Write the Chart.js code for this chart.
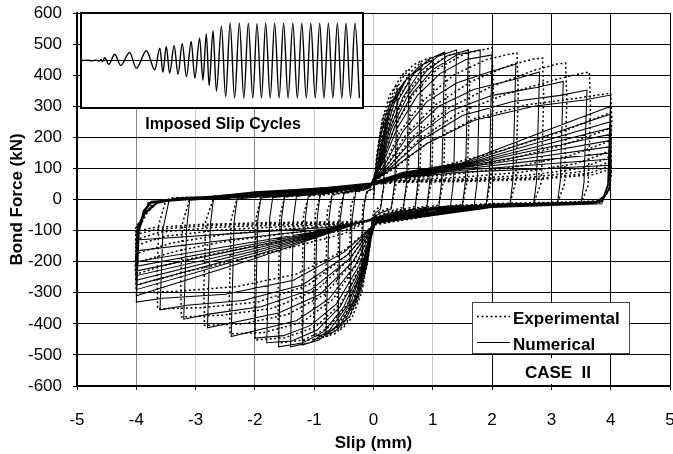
<!DOCTYPE html>
<html>
<head>
<meta charset="utf-8">
<script src="https://cdn.jsdelivr.net/npm/chart.js@4.4.1/dist/chart.umd.min.js"></script>
<style>
  html, body { margin: 0; padding: 0; background: #fff; }
  #wrap { position: relative; width: 673px; height: 454px; }
  #main { position: absolute; left: 0; top: 0; }
  #inset { position: absolute; left: 80px; top: 12px; width: 284px; height: 97px; box-sizing: border-box; border: 2px solid #000; background: #fff; }
  #insetChart { display: block; }
</style>
</head>
<body>
<div id="wrap">
  <canvas id="main" width="673" height="454"></canvas>
  <div id="inset"><canvas id="insetChart" width="280" height="93"></canvas></div>
</div>
<script>
// slip history for the small panel: time (0-100) and slip (mm) at each turning point
const insetTime = [0,2.1,3.6,5.0,6.1,6.8,7.3,8.1,9.6,11.7,13.8,17.0,19.4,23.0,26.0,27.8,28.9,30.1,31.3,32.9,
  34.3,35.8,37.3,39.0,40.3,42.0,43.2,44.4,45.4,46.8,48.0,49.8,51.3,52.9,54.5,56.2,57.8,59.4,61.0,62.5,
  64.1,65.6,67.2,68.8,70.4,72.0,73.6,75.3,76.9,78.5,80.1,81.7,83.3,84.9,86.4,88.0,89.6,91.2,92.8,94.3,
  95.9,97.5,99.1];
const insetSlip = [0,0.03,-0.02,0.04,-0.05,0.1,-0.12,0.3,-0.4,0.68,-0.54,0.86,-0.83,1.05,-1.0,1.33,-1.26,1.51,-1.37,1.62,
  -1.48,1.8,-1.73,2.05,-1.9,2.4,-2.1,2.85,-2.7,3.2,-3.3,3.68,-3.9,4.0,-4.05,4.0,-4.05,4.0,-4.05,3.95,
  -4.05,4.0,-4.05,4.0,-4.05,4.0,-4.05,4.0,-4.05,4.0,-4.05,4.0,-4.05,4.0,-4.05,4.0,-4.05,4.0,-4.05,4.0,
  -4.05,4.0,-4.05];

// numerical model: cycles of growing amplitude, [slip mm, force kN]
const numericalGrowing = [
  [[0,0],[0.05,120],[0.12,210],[0.2,250],[0.17,40],[0.12,-30],[0.02,-45],[-0.05,-140],[-0.12,-220],[-0.2,-260],[-0.17,-40],[-0.12,25],[0,35]],
  [[0.07,150],[0.17,250],[0.28,310],[0.4,340],[0.36,60],[0.3,-30],[0.1,-45],[-0.02,-60],[-0.09,-170],[-0.19,-265],[-0.3,-320],[-0.4,-350],[-0.36,-60],[-0.3,25],[-0.1,35]],
  [[0.03,60],[0.12,170],[0.25,280],[0.4,350],[0.6,395],[0.56,60],[0.5,-35],[0.25,-45],[0.02,-60],[-0.1,-180],[-0.22,-290],[-0.4,-375],[-0.6,-415],[-0.56,-60],[-0.5,20],[-0.25,30],[-0.05,40]],
  [[0.05,80],[0.15,190],[0.3,300],[0.5,375],[0.65,405],[0.8,420],[0.75,60],[0.7,-30],[0.35,-45],[0.02,-60],[-0.12,-190],[-0.28,-310],[-0.48,-390],[-0.65,-425],[-0.8,-435],[-0.75,-60],[-0.7,15],[-0.35,30],[-0.05,40]],
  [[0.06,90],[0.18,200],[0.35,310],[0.55,385],[0.78,430],[1.0,449],[0.95,60],[0.9,-25],[0.5,-40],[0.05,-60],[-0.14,-200],[-0.32,-320],[-0.55,-400],[-0.78,-432],[-1.0,-441],[-0.95,-60],[-0.9,15],[-0.5,30],[-0.05,42]],
  [[0.08,100],[0.22,210],[0.42,320],[0.66,400],[0.92,450],[1.2,474],[1.15,60],[1.1,-25],[0.6,-40],[0.05,-62],[-0.16,-210],[-0.38,-330],[-0.64,-410],[-0.92,-452],[-1.2,-468],[-1.15,-60],[-1.1,12],[-0.6,28],[-0.05,44]],
  [[0.1,110],[0.26,220],[0.5,330],[0.78,410],[1.08,460],[1.4,481],[1.35,60],[1.3,-20],[0.7,-38],[0.05,-64],[-0.18,-220],[-0.44,-340],[-0.74,-420],[-1.06,-460],[-1.4,-474],[-1.35,-60],[-1.3,10],[-0.7,26],[-0.05,45]],
  [[0.12,115],[0.3,225],[0.58,335],[0.9,415],[1.24,462],[1.6,481],[1.55,60],[1.5,-20],[0.8,-36],[0.05,-65],[-0.2,-220],[-0.5,-345],[-0.84,-425],[-1.2,-462],[-1.6,-474],[-1.55,-60],[-1.5,8],[-0.8,25],[-0.05,46]],
  [[0.14,118],[0.35,230],[0.65,340],[1.0,418],[1.4,465],[1.8,481],[1.75,60],[1.7,-18],[0.9,-35],[0.05,-66],[-0.22,-220],[-0.56,-345],[-0.95,-420],[-1.38,-455],[-1.8,-461],[-1.75,-60],[-1.7,6],[-0.9,24],[-0.05,47]],
  [[0.16,118],[0.4,230],[0.74,335],[1.12,405],[1.56,450],[2.0,465],[1.95,60],[1.9,-18],[1.0,-34],[0.05,-67],[-0.25,-215],[-0.62,-335],[-1.06,-405],[-1.52,-438],[-2.0,-446],[-1.95,-60],[-1.9,5],[-1.0,23],[-0.05,48]],
  [[0.2,115],[0.5,220],[0.9,315],[1.4,375],[1.95,410],[2.4,435],[2.35,60],[2.3,-16],[1.2,-32],[0.05,-68],[-0.3,-210],[-0.75,-320],[-1.3,-390],[-1.95,-420],[-2.4,-441],[-2.35,-70],[-2.3,2],[-1.2,22],[-0.05,49]],
  [[0.24,112],[0.6,210],[1.1,300],[1.7,355],[2.35,385],[2.8,410],[2.75,60],[2.7,-15],[1.4,-30],[0.05,-70],[-0.35,-200],[-0.9,-305],[-1.6,-365],[-2.35,-395],[-2.8,-413],[-2.75,-80],[-2.7,0],[-1.4,20],[-0.05,50]],
  [[0.28,110],[0.7,200],[1.3,285],[2.0,335],[2.75,360],[3.2,380],[3.15,60],[3.1,-14],[1.6,-28],[0.05,-72],[-0.4,-190],[-1.05,-290],[-1.9,-345],[-2.75,-368],[-3.2,-385],[-3.15,-90],[-3.1,-2],[-1.6,18],[-0.05,51]],
  [[0.32,108],[0.8,190],[1.5,270],[2.35,315],[3.15,335],[3.6,352],[3.55,55],[3.5,-14],[1.8,-27],[0.05,-74],[-0.45,-180],[-1.2,-275],[-2.2,-325],[-3.15,-340],[-3.6,-355],[-3.55,-95],[-3.45,-5],[-1.8,16],[-0.05,52]],
  [[0.36,105],[0.9,180],[1.7,255],[2.7,300],[3.55,320],[4.0,336],[3.95,50],[3.85,-14],[2.0,-26],[0.05,-76],[-0.5,-170],[-1.35,-260],[-2.5,-305],[-3.55,-318],[-4.0,-330],[-3.95,-100],[-3.8,-10],[-2.0,15],[-0.05,53]]
];

// numerical model: repeated cycles at 4 mm
const numericalAt4mm = [
  [[0.5,88],[1.5,118],[2.75,210],[4.0,300],[3.96,45],[3.88,5],[3.75,-12],[2.0,-24],[0.05,-56],[-0.8,-112],[-2.0,-190],[-4.0,-310],[-3.96,-95],[-3.88,-35],[-3.75,-6],[-2.0,16],[-0.05,52]],
  [[0.5,86],[1.5,115],[2.75,195],[4.0,275],[3.96,46],[3.88,6],[3.75,-11],[2.0,-23],[0.05,-57],[-0.8,-110],[-2.0,-180],[-4.0,-290],[-3.96,-96],[-3.88,-36],[-3.75,-7],[-2.0,17],[-0.05,51]],
  [[0.5,84],[1.5,112],[2.75,182],[4.0,250],[3.96,47],[3.88,6],[3.75,-10],[2.0,-22],[0.05,-58],[-0.8,-108],[-2.0,-172],[-4.0,-275],[-3.96,-97],[-3.88,-37],[-3.75,-8],[-2.0,18],[-0.05,50]],
  [[0.5,82],[1.5,110],[2.75,170],[4.0,230],[3.96,48],[3.88,7],[3.75,-10],[2.0,-21],[0.05,-59],[-0.8,-106],[-2.0,-165],[-4.0,-260],[-3.96,-98],[-3.88,-38],[-3.75,-8],[-2.0,19],[-0.05,50]],
  [[0.5,80],[1.5,108],[2.75,160],[4.0,210],[3.96,49],[3.88,8],[3.75,-9],[2.0,-20],[0.05,-60],[-0.8,-104],[-2.0,-158],[-4.0,-245],[-3.96,-99],[-3.88,-39],[-3.75,-9],[-2.0,20],[-0.05,49]],
  [[0.5,78],[1.5,105],[2.75,148],[4.0,190],[3.96,50],[3.88,8],[3.75,-9],[2.0,-19],[0.05,-61],[-0.8,-102],[-2.0,-150],[-4.0,-230],[-3.96,-100],[-3.88,-40],[-3.75,-10],[-2.0,21],[-0.05,48]],
  [[0.5,76],[1.5,102],[2.75,137],[4.0,170],[3.96,51],[3.88,9],[3.75,-8],[2.0,-18],[0.05,-62],[-0.8,-100],[-2.0,-143],[-4.0,-215],[-3.96,-101],[-3.88,-41],[-3.75,-10],[-2.0,22],[-0.05,48]],
  [[0.5,74],[1.5,98],[2.75,125],[4.0,150],[3.96,52],[3.88,10],[3.75,-8],[2.0,-17],[0.05,-63],[-0.8,-98],[-2.0,-136],[-4.0,-200],[-3.96,-102],[-3.88,-42],[-3.75,-11],[-2.0,23],[-0.05,47]],
  [[0.5,72],[1.5,94],[2.75,112],[4.0,130],[3.96,53],[3.88,10],[3.75,-7],[2.0,-16],[0.05,-64],[-0.8,-95],[-2.0,-120],[-4.0,-165],[-3.96,-103],[-3.88,-43],[-3.75,-11],[-2.0,24],[-0.05,47]],
  [[0.5,70],[1.5,88],[2.75,98],[4.0,110],[3.96,54],[3.88,11],[3.75,-7],[2.0,-15],[0.05,-65],[-0.8,-90],[-2.0,-105],[-4.0,-130],[-3.96,-104],[-3.88,-44],[-3.75,-12],[-2.0,25],[-0.05,46]]
];

// test results: cycles of growing amplitude
const experimentalGrowing = [
  [[0,0],[0.04,100],[0.1,200],[0.16,260],[0.2,280],[0.21,200],[0.18,50],[0.12,-20],[0,-40],[-0.05,-120],[-0.12,-210],[-0.2,-250],[-0.21,-180],[-0.18,-20],[-0.1,25],[0,40]],
  [[0.06,150],[0.15,260],[0.27,335],[0.37,365],[0.4,370],[0.41,260],[0.38,50],[0.3,-25],[0.1,-40],[-0.02,-60],[-0.08,-170],[-0.18,-275],[-0.3,-335],[-0.4,-360],[-0.41,-250],[-0.38,-20],[-0.3,22],[-0.1,35]],
  [[0.02,70],[0.1,180],[0.22,290],[0.38,370],[0.52,410],[0.6,420],[0.62,300],[0.58,60],[0.5,-25],[0.25,-40],[0,-60],[-0.09,-190],[-0.2,-300],[-0.36,-380],[-0.52,-415],[-0.6,-420],[-0.61,-300],[-0.58,-40],[-0.5,18],[-0.25,30],[-0.05,38]],
  [[0.05,95],[0.15,210],[0.3,320],[0.48,390],[0.66,432],[0.8,445],[0.82,320],[0.78,60],[0.7,-22],[0.35,-38],[0,-62],[-0.11,-200],[-0.26,-320],[-0.45,-395],[-0.65,-432],[-0.8,-440],[-0.81,-320],[-0.78,-40],[-0.7,14],[-0.35,28],[-0.05,40]],
  [[0.07,110],[0.2,225],[0.38,330],[0.6,405],[0.82,446],[1.0,460],[1.02,330],[0.98,60],[0.9,-20],[0.5,-36],[0,-64],[-0.13,-210],[-0.31,-330],[-0.54,-405],[-0.78,-440],[-1.0,-450],[-1.01,-330],[-0.98,-45],[-0.9,12],[-0.5,26],[-0.05,42]],
  [[0.09,115],[0.24,230],[0.45,335],[0.7,410],[0.98,455],[1.2,470],[1.22,340],[1.18,60],[1.1,-18],[0.6,-34],[0,-66],[-0.15,-215],[-0.36,-335],[-0.62,-410],[-0.92,-447],[-1.2,-455],[-1.21,-330],[-1.18,-50],[-1.1,10],[-0.6,25],[-0.05,43]],
  [[0.11,118],[0.29,235],[0.55,340],[0.88,418],[1.25,463],[1.6,480],[1.62,350],[1.58,60],[1.5,-16],[0.8,-32],[0,-68],[-0.18,-218],[-0.44,-338],[-0.78,-415],[-1.18,-452],[-1.6,-462],[-1.61,-330],[-1.58,-55],[-1.5,8],[-0.8,23],[-0.05,45]],
  [[0.14,118],[0.36,235],[0.68,340],[1.08,420],[1.55,470],[2.0,488],[2.02,350],[1.98,60],[1.9,-15],[1.0,-30],[0,-70],[-0.22,-215],[-0.55,-335],[-0.98,-410],[-1.5,-445],[-2.0,-452],[-2.01,-330],[-1.98,-60],[-1.9,6],[-1.0,22],[-0.05,46]],
  [[0.18,112],[0.45,220],[0.85,320],[1.35,400],[1.9,450],[2.3,468],[2.42,471],[2.44,340],[2.4,60],[2.3,-14],[1.2,-28],[0,-72],[-0.27,-205],[-0.68,-320],[-1.2,-395],[-1.85,-428],[-2.42,-432],[-2.43,-310],[-2.4,-65],[-2.3,4],[-1.2,20],[-0.05,47]],
  [[0.22,108],[0.55,210],[1.05,305],[1.65,380],[2.3,432],[2.7,452],[2.85,455],[2.87,330],[2.83,55],[2.7,-13],[1.4,-26],[0,-75],[-0.32,-195],[-0.82,-305],[-1.45,-370],[-2.2,-400],[-2.85,-405],[-2.86,-290],[-2.83,-70],[-2.7,2],[-1.4,18],[-0.05,48]],
  [[0.26,105],[0.65,200],[1.25,292],[1.95,360],[2.7,415],[3.1,436],[3.24,439],[3.26,320],[3.22,50],[3.1,-12],[1.6,-24],[0,-78],[-0.37,-185],[-0.95,-290],[-1.7,-350],[-2.55,-372],[-3.24,-378],[-3.25,-270],[-3.22,-75],[-3.1,0],[-1.6,16],[-0.05,49]],
  [[0.3,102],[0.75,190],[1.45,280],[2.25,340],[3.05,385],[3.5,405],[3.64,410],[3.66,300],[3.62,45],[3.5,-11],[1.8,-22],[0,-80],[-0.42,-175],[-1.1,-275],[-1.95,-330],[-2.9,-348],[-3.64,-352],[-3.65,-250],[-3.62,-80],[-3.5,-2],[-1.8,15],[-0.05,50]],
  [[0.35,100],[0.9,180],[1.7,260],[2.6,305],[3.4,325],[3.85,338],[4.0,342],[4.02,260],[3.98,45],[3.85,-10],[2.0,-20],[0,-82],[-0.5,-165],[-1.3,-240],[-2.3,-280],[-3.3,-295],[-4.0,-300],[-4.02,-200],[-3.95,-90],[-3.75,-20],[-3.4,5],[-2.0,14],[-0.05,50]]
];

// test results: repeated cycles at 4 mm
const experimentalAt4mm = [
  [[0.4,75],[1.2,110],[2.2,160],[3.2,220],[3.8,265],[4.0,280],[4.01,200],[3.98,40],[3.85,-8],[3.3,-15],[2.0,-20],[1.0,-32],[0,-60],[-0.5,-110],[-1.3,-150],[-2.2,-190],[-3.1,-230],[-3.7,-260],[-4.0,-275],[-4.01,-190],[-3.97,-90],[-3.85,-40],[-3.65,-8],[-3.3,6],[-2.0,14],[-1.0,28],[-0.05,50]],
  [[0.4,70],[1.3,95],[2.3,130],[3.2,175],[3.8,215],[4.0,230],[4.01,160],[3.98,38],[3.85,-7],[3.3,-14],[2.0,-19],[1.0,-31],[0,-61],[-0.5,-100],[-1.4,-130],[-2.3,-160],[-3.2,-195],[-3.75,-225],[-4.0,-240],[-4.01,-170],[-3.97,-90],[-3.85,-41],[-3.65,-9],[-3.3,5],[-2.0,15],[-1.0,29],[-0.05,50]],
  [[0.4,65],[1.4,82],[2.4,105],[3.3,140],[3.8,175],[4.0,190],[4.01,135],[3.98,36],[3.85,-6],[3.3,-13],[2.0,-18],[1.0,-30],[0,-62],[-0.5,-90],[-1.5,-110],[-2.5,-135],[-3.3,-165],[-3.8,-192],[-4.0,-205],[-4.01,-150],[-3.97,-88],[-3.85,-42],[-3.65,-10],[-3.3,4],[-2.0,16],[-1.0,30],[-0.05,49]],
  [[0.4,62],[1.5,72],[2.5,88],[3.4,115],[3.85,145],[4.0,160],[4.01,115],[3.98,35],[3.85,-6],[3.3,-12],[2.0,-17],[1.0,-29],[0,-63],[-0.5,-85],[-1.5,-95],[-2.5,-112],[-3.4,-140],[-3.85,-165],[-4.0,-175],[-4.01,-130],[-3.97,-86],[-3.85,-43],[-3.65,-10],[-3.3,4],[-2.0,17],[-1.0,31],[-0.05,49]],
  [[0.4,60],[1.5,66],[2.6,78],[3.5,100],[3.88,128],[4.0,140],[4.01,100],[3.98,34],[3.85,-5],[3.3,-11],[2.0,-16],[1.0,-28],[0,-64],[-0.5,-80],[-1.6,-88],[-2.6,-98],[-3.5,-118],[-3.88,-140],[-4.0,-150],[-4.01,-115],[-3.97,-84],[-3.85,-44],[-3.65,-11],[-3.3,3],[-2.0,18],[-1.0,32],[-0.05,48]],
  [[0.4,58],[1.6,62],[2.7,72],[3.6,92],[3.9,115],[4.0,125],[4.01,92],[3.98,33],[3.85,-5],[3.3,-10],[2.0,-15],[1.0,-27],[0,-65],[-0.5,-78],[-1.6,-82],[-2.7,-90],[-3.6,-105],[-3.9,-122],[-4.0,-130],[-4.01,-105],[-3.97,-82],[-3.85,-45],[-3.65,-11],[-3.3,3],[-2.0,19],[-1.0,33],[-0.05,48]],
  [[0.4,56],[1.6,60],[2.8,68],[3.65,85],[3.92,104],[4.0,112],[4.01,88],[3.98,32],[3.85,-4],[3.3,-9],[2.0,-14],[1.0,-26],[0,-66],[-0.5,-75],[-1.7,-78],[-2.8,-84],[-3.65,-96],[-3.92,-108],[-4.0,-115],[-4.01,-98],[-3.97,-80],[-3.85,-46],[-3.65,-12],[-3.3,2],[-2.0,20],[-1.0,34],[-0.05,47]],
  [[0.4,55],[1.6,58],[2.8,65],[3.7,80],[3.93,94],[4.0,100],[4.01,82],[3.98,31],[3.85,-4],[3.3,-8],[2.0,-13],[1.0,-25],[0,-67],[-0.5,-72],[-1.7,-74],[-2.9,-80],[-3.7,-90],[-3.94,-100],[-4.0,-105],[-4.01,-92],[-3.97,-78],[-3.85,-47],[-3.65,-12],[-3.3,2],[-2.0,21],[-1.0,35],[-0.05,47]]
];

const seriesLabels = ['Experimental', 'Numerical'];

const FONT = '"Liberation Sans", Arial, Helvetica, sans-serif';
Chart.defaults.font.family = FONT;
Chart.defaults.color = '#000';

function toPoints(loops) {
  return loops.flat().map(p => ({ x: p[0], y: p[1] }));
}

// vertical grid lines are not all the same shade
function slipGridColor(v) {
  if (v >= 2) return '#000';
  if (v === -4 || v === -2) return '#8a8a8a';
  return '#c8c8c8';
}

// caption under the small panel, the legend box and the case label
const annotations = {
  id: 'annotations',
  afterDraw(chart) {
    const c = chart.ctx;
    const ds = chart.data.datasets;
    c.save();
    c.fillStyle = '#000';
    c.textBaseline = 'middle';
    c.textAlign = 'center';
    c.font = 'bold 16px ' + FONT;
    c.fillText('Imposed Slip Cycles', 223, 125);

    // legend
    c.fillStyle = '#fff';
    c.fillRect(472, 302, 158, 52);
    c.strokeStyle = '#444';
    c.lineWidth = 1;
    c.strokeRect(472.5, 302.5, 157, 51);
    const rows = [316, 342];
    ds.forEach((d, i) => {
      c.beginPath();
      c.setLineDash(d.borderDash || []);
      c.lineWidth = d.borderWidth;
      c.strokeStyle = d.borderColor;
      c.moveTo(477, rows[i] + 0.5);
      c.lineTo(510, rows[i] + 0.5);
      c.stroke();
      c.setLineDash([]);
      c.fillStyle = '#000';
      c.textAlign = 'left';
      c.font = 'bold 17px ' + FONT;
      c.fillText(d.label, 513, rows[i] + 3);
    });

    c.fillStyle = '#fff';
    c.fillRect(501, 358, 104, 26);
    c.fillStyle = '#000';
    c.textAlign = 'center';
    c.font = 'bold 17px ' + FONT;
    c.fillText('CASE  II', 558, 373);
    c.restore();
  }
};

new Chart(document.getElementById('main'), {
  type: 'scatter',
  data: {
    datasets: [
      {
        label: seriesLabels[0],
        data: toPoints(experimentalGrowing.concat(experimentalAt4mm)),
        showLine: true,
        borderColor: '#000',
        borderWidth: 1.5,
        borderDash: [2, 2.5],
        pointRadius: 0,
        tension: 0
      },
      {
        label: seriesLabels[1],
        data: toPoints(numericalGrowing.concat(numericalAt4mm)),
        showLine: true,
        borderColor: '#000',
        borderWidth: 1.05,
        pointRadius: 0,
        tension: 0
      }
    ]
  },
  options: {
    responsive: false,
    animation: false,
    devicePixelRatio: 1,
    layout: { padding: { left: 0, right: 3, top: 13, bottom: 0 } },
    plugins: { legend: { display: false }, tooltip: { enabled: false } },
    scales: {
      x: {
        type: 'linear',
        min: -5,
        max: 5,
        ticks: { stepSize: 1, padding: 20, font: { size: 17 }, color: '#000' },
        grid: {
          color: ctx => slipGridColor(ctx.tick ? ctx.tick.value : 0),
          lineWidth: 1,
          tickLength: 4,
          tickColor: '#000'
        },
        border: { color: '#000', width: 1.5 },
        title: {
          display: true,
          text: 'Slip (mm)',
          font: { size: 17, weight: 'bold' },
          color: '#000',
          padding: { top: 0, bottom: 0 }
        },
        afterFit(scale) {
          scale.height = 68;
          scale.paddingLeft = 0;
          scale.paddingRight = 0;
        }
      },
      y: {
        min: -600,
        max: 600,
        ticks: { stepSize: 100, padding: 11, font: { size: 17 }, color: '#000' },
        grid: { color: '#000', lineWidth: 1, tickLength: 4, tickColor: '#000' },
        border: { color: '#000', width: 2 },
        title: {
          display: true,
          text: 'Bond Force (kN)',
          font: { size: 17, weight: 'bold' },
          color: '#000',
          padding: { top: 7, bottom: 0 }
        },
        afterFit(scale) {
          scale.width = 77;
          scale.paddingTop = 0;
          scale.paddingBottom = 0;
        }
      }
    }
  },
  plugins: [annotations]
});

// small panel with the imposed slip history
new Chart(document.getElementById('insetChart'), {
  type: 'scatter',
  data: {
    datasets: [
      {
        data: [{ x: 0, y: 0 }, { x: 100, y: 0 }],
        showLine: true,
        borderColor: '#000',
        borderWidth: 1,
        pointRadius: 0
      },
      {
        data: insetTime.map((t, i) => ({ x: t, y: insetSlip[i] })),
        showLine: true,
        borderColor: '#000',
        borderWidth: 1.4,
        pointRadius: 0,
        tension: 0.4,
        cubicInterpolationMode: 'monotone'
      }
    ]
  },
  options: {
    responsive: false,
    animation: false,
    devicePixelRatio: 1,
    layout: { padding: 0 },
    plugins: { legend: { display: false }, tooltip: { enabled: false } },
    scales: {
      x: { type: 'linear', display: false, min: 0, max: 100 },
      y: { display: false, min: -5, max: 5 }
    }
  }
});
</script>
</body>
</html>
